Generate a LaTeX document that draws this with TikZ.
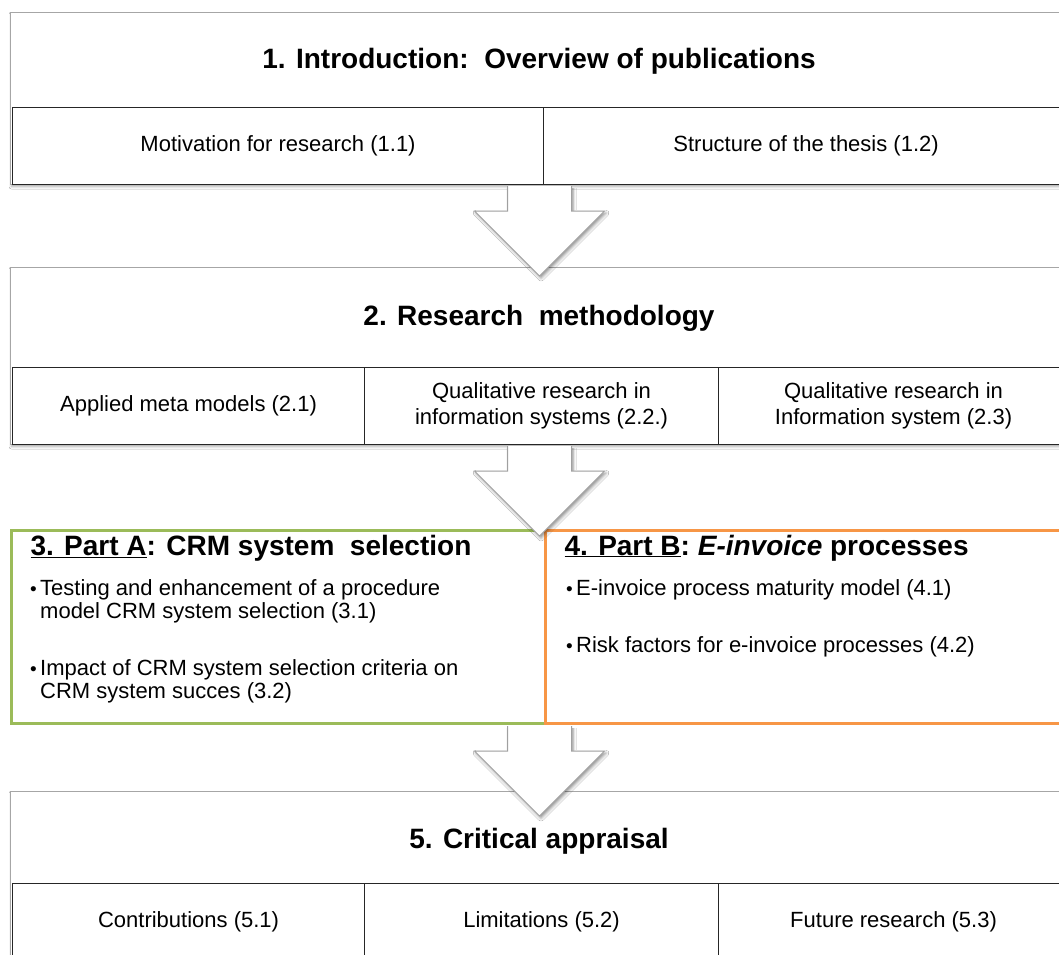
\documentclass[tikz,border=0pt]{standalone}
\usepackage{fontspec}
\setmainfont{Liberation Sans}
\usetikzlibrary{calc,positioning,shadows.blur}
\definecolor{framecol}{RGB}{166,166,166}
\definecolor{cellcol}{RGB}{38,38,38}
\definecolor{partAcol}{RGB}{155,187,89}
\definecolor{partBcol}{RGB}{247,150,70}
\definecolor{arrowcol}{RGB}{160,160,160}
\newcommand{\headfont}{\fontsize{28}{32}\selectfont\bfseries}
\newcommand{\cellfont}{\fontsize{22}{26}\selectfont}
% block arrow hanging below a box, #1 = top centre
\newcommand{\flowarrow}[1]{%
  \draw[bigarrow] ($(#1)+(32,1)$) -- ($(#1)+(32,26)$) -- ($(#1)+(65,26)$)
    -- ($(#1)+(0,91)$) -- ($(#1)+(-65,26)$) -- ($(#1)+(-32,26)$) -- ($(#1)+(-32,1)$);}

\begin{document}
\begin{tikzpicture}[x=1pt,y=-1pt,
  frame/.style={draw=framecol,line width=1pt,fill=white,anchor=north west,inner sep=0pt,
    minimum width=1058pt,
    blur shadow={shadow xshift=1pt,shadow yshift=-2pt,shadow blur radius=2.5pt,shadow opacity=35}},
  cell/.style={draw=cellcol,line width=1.1pt,fill=white,anchor=north west,inner sep=0pt,
    minimum height=77pt,align=center,font=\cellfont},
  head/.style={anchor=base,font=\headfont},
  part/.style={line width=3pt,fill=white,anchor=north west,inner sep=0pt,minimum height=193pt},
  parthead/.style={anchor=base west,font=\headfont},
  bul/.style={anchor=base west,inner sep=0pt,font=\fontsize{19}{20}\selectfont},
  item/.style={anchor=base west,inner sep=0pt,align=left,font=\fontsize{22}{23}\selectfont},
  bigarrow/.style={draw=arrowcol,line width=1pt,fill=white,line join=miter,
    blur shadow={shadow xshift=1.5pt,shadow yshift=-2pt,shadow blur radius=3pt,shadow opacity=45}}]
\useasboundingbox (0,0) rectangle (1059,954);
\clip (0,0) rectangle (1059,954);
\fill[white] (0,0) rectangle (1059,954);

% ---- 1. introduction ----
\node[frame,minimum height=172pt] (intro) at (10,12) {};
\node[head] (introhead) at (539,68) {1. Introduction:\ \ Overview of publications};
\node[cell,minimum width=531pt] (motiv) at (12,107) {Motivation for research (1.1)};
\node[cell,minimum width=525pt] (struct) at (543,107) {Structure of the thesis (1.2)};

% ---- 2. research methodology ----
\node[frame,minimum height=177pt] (method) at (10,267) {};
\node[head] (methodhead) at (539,325) {2. Research\ \ methodology};
\node[cell,minimum width=352pt] (meta) at (12,367) {Applied meta models (2.1)};
\node[cell,minimum width=354pt] (qualA) at (364,367) {Qualitative research in\\information systems (2.2.)};
\node[cell,minimum width=350pt] (qualB) at (718,367) {Qualitative research in\\Information system (2.3)};

% ---- 3. part A / 4. part B ----
\node[part,draw=partAcol,minimum width=534pt] (partA) at (10,529) {};
\node[part,draw=partBcol,minimum width=524pt] (partB) at (544,529) {};
\node[parthead] (partAhead) at (27,555) {\underline{3. Part A}: CRM system\ \ selection};
% two-line items: base anchor sits on the last line
\node[bul] (bulA1) at (30,595) {•};
\node[item] (itemA1) at (40,618) {Testing and enhancement of a procedure\\model CRM system selection (3.1)};
\node[bul] (bulA2) at (30,675) {•};
\node[item] (itemA2) at (40,698) {Impact of CRM system selection criteria on\\CRM system succes (3.2)};
\node[parthead] (partBhead) at (561,555) {\underline{4. Part B}:\ \textit{E-invoice} processes};
\node[bul] (bulB1) at (566,595) {•};
\node[item] (itemB1) at (576,595) {E-invoice process maturity model (4.1)};
\node[bul] (bulB2) at (566,652) {•};
\node[item] (itemB2) at (576,652) {Risk factors for e-invoice processes (4.2)};

% ---- 5. critical appraisal ----
\node[frame,minimum height=169pt] (apprais) at (10,791) {};
\node[head] (appraishead) at (539,848) {5. Critical appraisal};
\node[cell,minimum width=352pt] (contrib) at (12,883) {Contributions (5.1)};
\node[cell,minimum width=354pt] (limits) at (364,883) {Limitations (5.2)};
\node[cell,minimum width=350pt] (future) at (718,883) {Future research (5.3)};

% ---- arrows between the blocks ----
\flowarrow{intro.south}
\flowarrow{method.south}
\flowarrow{intro.south |- partA.south}
\end{tikzpicture}
\end{document}
